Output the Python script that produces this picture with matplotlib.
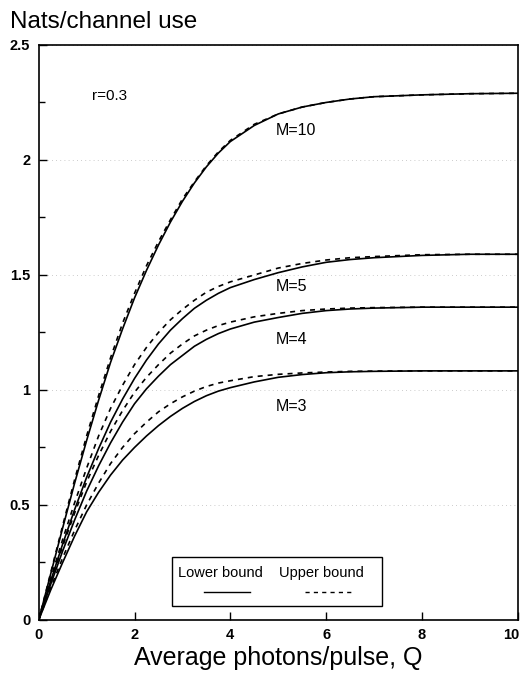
import matplotlib
matplotlib.use("Agg")
import matplotlib.pyplot as plt
from matplotlib.ticker import MultipleLocator
from matplotlib.transforms import ScaledTranslation

plt.rcParams['font.family'] = ['Liberation Sans', 'DejaVu Sans']

# average photons per pulse
Q = [0, 0.25, 0.5, 0.75, 1, 1.25, 1.5, 1.75, 2, 2.25, 2.5, 2.75, 3, 3.25, 3.5, 3.75,
     4, 4.5, 5, 5.5, 6, 6.5, 7, 8, 9, 10]

# lower bounds (solid)
low_m10 = [0, 0.20, 0.40, 0.595, 0.78, 0.955, 1.12, 1.265, 1.40, 1.52, 1.63, 1.73, 1.82,
           1.90, 1.97, 2.03, 2.08, 2.15, 2.20, 2.23, 2.25, 2.265, 2.275, 2.283, 2.288, 2.29]
low_m5 = [0, 0.17, 0.33, 0.48, 0.62, 0.745, 0.86, 0.96, 1.05, 1.13, 1.20, 1.26, 1.31,
          1.355, 1.39, 1.42, 1.445, 1.48, 1.51, 1.535, 1.555, 1.567, 1.575, 1.585, 1.59, 1.59]
low_m4 = [0, 0.155, 0.30, 0.435, 0.56, 0.67, 0.77, 0.86, 0.94, 1.005, 1.06, 1.11, 1.15,
          1.19, 1.22, 1.245, 1.265, 1.295, 1.315, 1.333, 1.345, 1.352, 1.356, 1.36, 1.36, 1.36]
low_m3 = [0, 0.13, 0.25, 0.365, 0.47, 0.555, 0.63, 0.695, 0.75, 0.80, 0.845, 0.885, 0.92,
          0.95, 0.975, 0.995, 1.01, 1.035, 1.055, 1.067, 1.075, 1.079, 1.081, 1.083, 1.083, 1.083]

# upper bounds (dashed)
up_m10 = [0, 0.205, 0.41, 0.61, 0.80, 0.975, 1.14, 1.29, 1.42, 1.54, 1.645, 1.74, 1.83,
          1.905, 1.975, 2.035, 2.085, 2.155, 2.20, 2.23, 2.25, 2.265, 2.275, 2.283, 2.288, 2.29]
up_m5 = [0, 0.18, 0.35, 0.51, 0.66, 0.80, 0.92, 1.02, 1.11, 1.185, 1.25, 1.305, 1.35,
         1.39, 1.425, 1.45, 1.47, 1.50, 1.53, 1.55, 1.565, 1.575, 1.58, 1.588, 1.59, 1.59]
up_m4 = [0, 0.165, 0.32, 0.465, 0.60, 0.715, 0.82, 0.91, 0.99, 1.055, 1.11, 1.16, 1.20,
         1.235, 1.26, 1.28, 1.295, 1.318, 1.333, 1.345, 1.352, 1.356, 1.358, 1.36, 1.36, 1.36]
up_m3 = [0, 0.14, 0.27, 0.39, 0.50, 0.595, 0.68, 0.75, 0.81, 0.86, 0.905, 0.94, 0.97,
         0.995, 1.015, 1.03, 1.04, 1.058, 1.068, 1.074, 1.078, 1.081, 1.082, 1.083, 1.083, 1.083]

labels = ["M=10", "M=5", "M=4", "M=3"]
label_pos = [(4.94, 2.13), (4.94, 1.45), (4.94, 1.22), (4.94, 0.93)]

xticks = [0, 2, 4, 6, 8, 10]
yticks = [0, 0.5, 1, 1.5, 2, 2.5]

fig = plt.figure(figsize=(5.23, 6.81), dpi=100)
ax = fig.add_axes([0.074, 0.0896, 0.916, 0.8444])

for lo, up in [(low_m10, up_m10), (low_m5, up_m5), (low_m4, up_m4), (low_m3, up_m3)]:
    ax.plot(Q, lo, color='black', lw=1.2)
    ax.plot(Q, up, color='black', lw=1.2, ls=(0, (3, 3)))

for lab, (x, y) in zip(labels, label_pos):
    ax.text(x, y, lab, fontsize=11.5, va='center', ha='left')
ax.text(1.12, 2.28, "r=0.3", fontsize=11, va='center', ha='left')

ax.set_xlim(0, 10)
ax.set_ylim(0, 2.5)
ax.set_xticks(xticks)
ax.set_xticklabels([str(t) for t in xticks], fontweight='bold')
ax.set_yticks(yticks)
ax.set_yticklabels(["0", "0.5", "1", "1.5", "2", "2.5"], fontweight='bold')
ax.yaxis.set_minor_locator(MultipleLocator(0.25))
ax.tick_params(direction='in', length=6, width=1, labelsize=10.5)
ax.tick_params(which='minor', direction='in', length=4, width=1)
ax.tick_params(axis='y', pad=6)
ax.tick_params(axis='x', pad=6)
for s in ax.spines.values():
    s.set_linewidth(1.2)

# keep the last x label inside the figure
last = ax.get_xticklabels()[-1]
last.set_transform(last.get_transform() + ScaledTranslation(-5 / 72, 0, fig.dpi_scale_trans))

ax.grid(True, axis='y', color='#bbbbbb', ls=(0, (1, 4)), lw=0.6)
ax.grid(False, axis='x')

# legend box drawn by hand, labels above the line samples
box = plt.Rectangle((0.278, 0.024), 0.438, 0.085, transform=ax.transAxes,
                    fill=False, ec='black', lw=1.0)
ax.add_patch(box)
ax.text(0.380, 0.082, "Lower bound", transform=ax.transAxes, fontsize=10.5,
        ha='center', va='center')
ax.text(0.591, 0.082, "Upper bound", transform=ax.transAxes, fontsize=10.5,
        ha='center', va='center')
ax.plot([0.345, 0.441], [0.049, 0.049], transform=ax.transAxes, color='black', lw=1.0)
ax.plot([0.556, 0.654], [0.049, 0.049], transform=ax.transAxes, color='black', lw=1.0,
        ls=(0, (3, 3)))

fig.text(0.019, 0.967, "Nats/channel use", fontsize=17.5, ha='left', va='center')
ax.set_xlabel("Average photons/pulse, Q", fontsize=18, labelpad=3)

fig.savefig("out.png", dpi=100)
